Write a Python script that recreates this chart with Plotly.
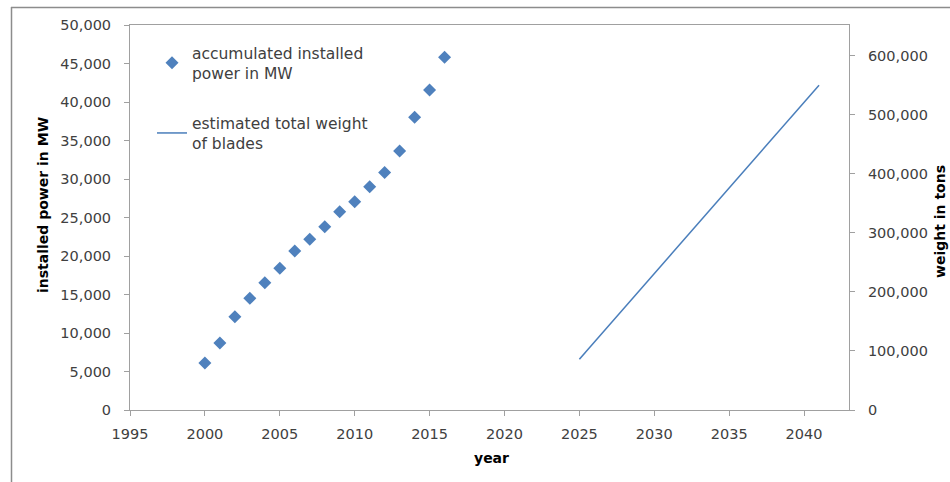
import plotly.graph_objects as go

# Accumulated installed power (MW) per year
years_power = [2000, 2001, 2002, 2003, 2004, 2005, 2006, 2007, 2008,
               2009, 2010, 2011, 2012, 2013, 2014, 2015, 2016]
installed_mw = [6100, 8700, 12100, 14500, 16540, 18400, 20650, 22160, 23810,
                25760, 27060, 29000, 30830, 33640, 38010, 41560, 45800]

# Estimated total weight of blades (tons)
years_weight = [2025, 2041]
weight_tons = [86000, 550000]

x_ticks = [1995, 2000, 2005, 2010, 2015, 2020, 2025, 2030, 2035, 2040]

W, H = 950, 482
L, R, T, B = 130, 101, 25, 72
PW, PH = W - L - R, H - T - B


def px(x):
    return (x - L) / PW


def py(y):
    return (H - B - y) / PH


FONT = "DejaVu Sans"
TXT = "#404040"
AX = "#a0a0a0"
FRAME = "#8c8c8c"

fig = go.Figure()
fig.add_trace(go.Scatter(
    x=years_power, y=installed_mw, mode="markers",
    name="accumulated installed<br>power in MW",
    marker=dict(symbol="diamond", size=10, color="#4F81BD"),
    legendgroup="a", yaxis="y",
))
fig.add_trace(go.Scatter(
    x=years_weight, y=weight_tons, mode="lines",
    name="estimated total weight<br>of blades",
    line=dict(color="#4A7EBB", width=1.5),
    legendgroup="b", yaxis="y2",
))

fig.update_layout(
    width=W, height=H,
    margin=dict(l=L, r=R, t=T, b=B),
    paper_bgcolor="white", plot_bgcolor="white",
    font=dict(family=FONT, size=14, color=TXT),
    xaxis=dict(
        range=[1995, 2043], tickvals=x_ticks, showgrid=False, zeroline=False,
        showline=True, linecolor=AX, linewidth=1, mirror=True,
        ticks="outside", ticklen=5, tickcolor=AX,
        ticklabelstandoff=6, tickfont=dict(size=14.5, color=TXT),
    ),
    yaxis=dict(
        range=[0, 50000], dtick=5000, tickformat=",d", showgrid=False,
        zeroline=False, showline=True, linecolor=AX, linewidth=1,
        ticks="outside", ticklen=5, tickcolor=AX,
        ticklabelstandoff=10, tickfont=dict(size=14.5, color=TXT),
    ),
    yaxis2=dict(
        range=[0, 652000], tickvals=[0, 100000, 200000, 300000, 400000, 500000, 600000],
        tickformat=",d", overlaying="y", side="right", showgrid=False,
        zeroline=False, showline=True, linecolor=AX, linewidth=1,
        ticks="outside", ticklen=5, tickcolor=AX,
        ticklabelstandoff=10, tickfont=dict(size=14.5, color=TXT),
    ),
    showlegend=True,
    legend=dict(
        x=px(152), y=py(36), xanchor="left", yanchor="top",
        bgcolor="rgba(0,0,0,0)", font=dict(size=15.5, color=TXT),
        tracegroupgap=27, itemwidth=30,
    ),
    shapes=[
        dict(type="line", xref="paper", yref="paper",
             x0=px(11), x1=px(960), y0=py(7.5), y1=py(7.5),
             line=dict(color=FRAME, width=1.5)),
        dict(type="line", xref="paper", yref="paper",
             x0=px(11.5), x1=px(11.5), y0=py(7), y1=py(495),
             line=dict(color=FRAME, width=1.5)),
    ],
    annotations=[
        dict(text="<b>installed power in MW</b>", xref="paper", yref="paper",
             x=px(43), y=py(205), xanchor="center", yanchor="middle",
             textangle=-90, showarrow=False,
             font=dict(size=14, color="black")),
        dict(text="<b>year</b>", xref="paper", yref="paper",
             x=px(491), y=py(458), xanchor="center", yanchor="middle",
             showarrow=False, font=dict(size=14, color="black")),
        dict(text="<b>weight in tons</b>", xref="paper", yref="paper",
             x=px(940), y=py(222), xanchor="center", yanchor="middle",
             textangle=-90, showarrow=False,
             font=dict(size=14, color="black")),
    ],
)

fig.write_html("out.html")
